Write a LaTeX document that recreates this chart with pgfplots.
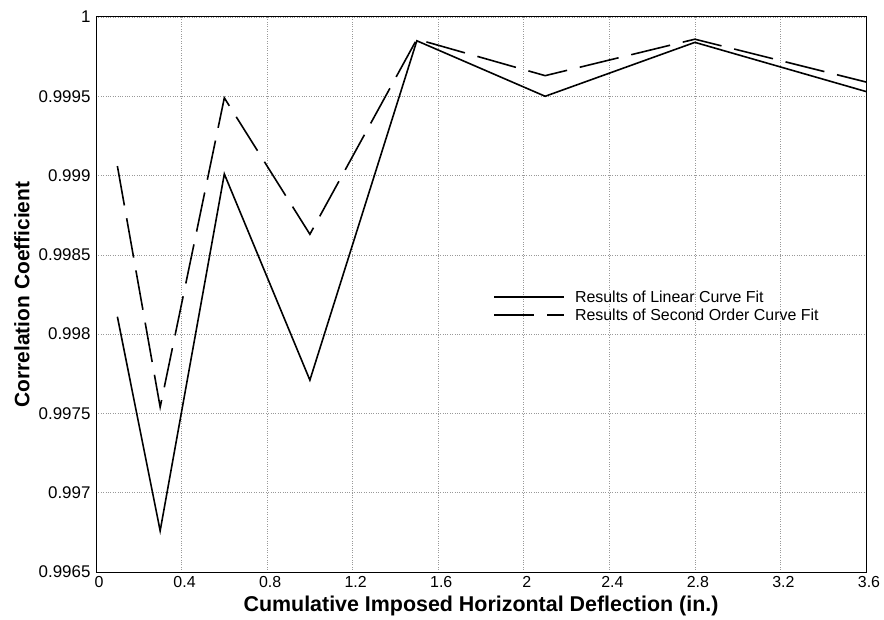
\documentclass[border=0pt]{standalone}
\usepackage{fontspec}
\setmainfont{Liberation Sans}
\usepackage{pgfplots}
\pgfplotsset{compat=1.18}

% correlation coefficients
\begin{document}
\begin{tikzpicture}
\begin{axis}[
    scale only axis,
    width=770bp, height=555bp,
    xmin=0, xmax=3.6,
    ymin=0.9965, ymax=1,
    xtick={0,0.4,...,3.6},
    xticklabels={0,0.4,0.8,1.2,1.6,2,2.4,2.8,3.2,3.6},
    ytick={0.9965,0.997,0.9975,0.998,0.9985,0.999,0.9995,1},
    yticklabels={0.9965,0.997,0.9975,0.998,0.9985,0.999,0.9995,1},
    major tick length=0pt,
    grid=major,
    grid style={dotted, black!40, line width=0.6pt},
    axis line style={line width=1pt},
    /pgf/number format/assume math mode=true,
    xticklabel style={font=\fontsize{16}{18}\selectfont, xshift=3bp, yshift=-1bp},
    yticklabel style={font=\fontsize{17}{19}\selectfont, xshift=-2bp},
    xlabel={Cumulative Imposed Horizontal Deflection (in.)},
    ylabel={Correlation Coefficient},
    xlabel style={font=\fontsize{21.5}{23}\bfseries, at={(axis description cs:0.5,-0.0613)}, anchor=center},
    ylabel style={font=\fontsize{21}{23}\bfseries, at={(axis description cs:-0.0961,0.5)}, anchor=center},
    legend style={draw=none, fill=none, font=\fontsize{16}{17}\selectfont,
        at={(axis description cs:0.512,0.479)}, anchor=west, row sep=1bp},
    legend cell align=left,
    legend image code/.code={\draw[#1] (0bp,0bp) -- (70bp,0bp);},
]
\addplot[black, line width=1.6pt] coordinates {
    (0.1,0.99811) (0.3,0.99676) (0.6,0.99901) (1.0,0.99771)
    (1.5,0.99985) (2.1,0.99950) (2.8,0.99984) (3.6,0.99953)
};
\addlegendentry{\hspace{8bp}Results of Linear Curve Fit}
\addplot[black, line width=1.6pt, dash pattern=on 40bp off 13bp] coordinates {
    (0.1,0.99906) (0.3,0.99754) (0.6,0.99949) (1.0,0.99863)
    (1.5,0.99986) (2.1,0.99963) (2.8,0.99986) (3.6,0.99959)
};
\addlegendentry{\hspace{8bp}Results of Second Order Curve Fit}
\end{axis}
\path[use as bounding box] (-96bp,-48bp) rectangle (788bp,572bp);
\end{tikzpicture}
\end{document}
